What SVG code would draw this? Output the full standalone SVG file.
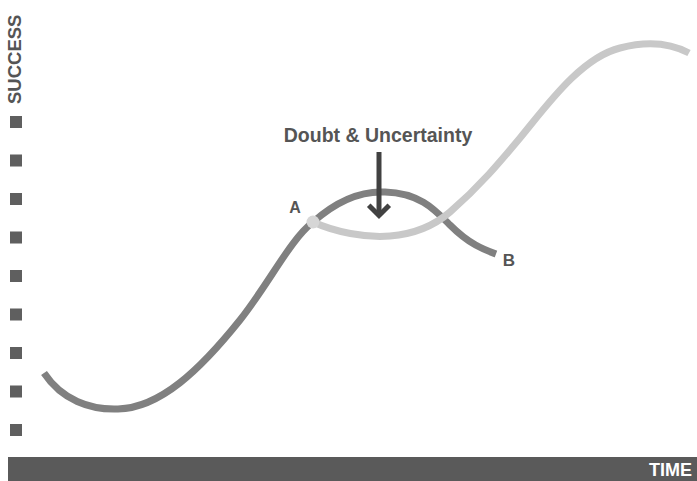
<svg xmlns="http://www.w3.org/2000/svg" width="697" height="481" viewBox="0 0 697 481">
<style>
.lbl{font-family:"Liberation Sans",Arial,sans-serif;font-weight:bold;fill:#555555}
.sq{fill:#5f5f5f}
.curve{fill:none;stroke-width:7;stroke-linecap:butt}
</style>
<rect width="697" height="481" fill="#ffffff"/>
<g id="y-axis">
<text class="lbl" font-size="18.5" transform="translate(21,104) rotate(-90)">SUCCESS</text>
<rect class="sq" x="10" y="116" width="12" height="12"/>
<rect class="sq" x="10" y="154.5" width="12" height="12"/>
<rect class="sq" x="10" y="193" width="12" height="12"/>
<rect class="sq" x="10" y="231.5" width="12" height="12"/>
<rect class="sq" x="10" y="270" width="12" height="12"/>
<rect class="sq" x="10" y="308.5" width="12" height="12"/>
<rect class="sq" x="10" y="347" width="12" height="12"/>
<rect class="sq" x="10" y="385.5" width="12" height="12"/>
<rect class="sq" x="10" y="424" width="12" height="12"/>
</g>
<g id="x-axis">
<rect x="8" y="457" width="689" height="24" fill="#5a5a5a"/>
<text font-family="'Liberation Sans',Arial,sans-serif" font-weight="bold" font-size="18" fill="#ffffff" x="692" y="476" text-anchor="end">TIME</text>
</g>
<g id="connectors">
<path id="curve-a" class="curve" stroke="#808080" d="M44,373 C62,400 90,410 118,409 C160,408 200,370 240,320 C270,282 290,240 313,222 C340,198 365,191 385,192 C420,193 435,210 450,225 C470,245 485,250 496,254"/>
<path id="curve-b" class="curve" stroke="#c8c8c8" d="M313,222 C335,232 365,238 390,236 C415,234 435,225 450,212 C480,186 500,162 520,138 C545,108 580,58 620,48 C650,40 672,44 689,53"/>
<circle cx="313" cy="222" r="6.5" fill="#d6d6d6"/>
<g id="arrow" stroke="#414141" stroke-width="5" fill="none">
<line x1="379" y1="152" x2="379" y2="215"/>
<polyline points="370.5,207 379,215.5 387.5,207" stroke-linecap="square"/>
</g>
</g>
<g id="label-doubt">
<text class="lbl" font-size="19.5" x="378" y="142" text-anchor="middle">Doubt &amp; Uncertainty</text>
</g>
<g id="label-a">
<text class="lbl" font-size="16" x="295" y="213" text-anchor="middle">A</text>
</g>
<g id="label-b">
<text class="lbl" font-size="17" x="509" y="266" text-anchor="middle">B</text>
</g>
</svg>
